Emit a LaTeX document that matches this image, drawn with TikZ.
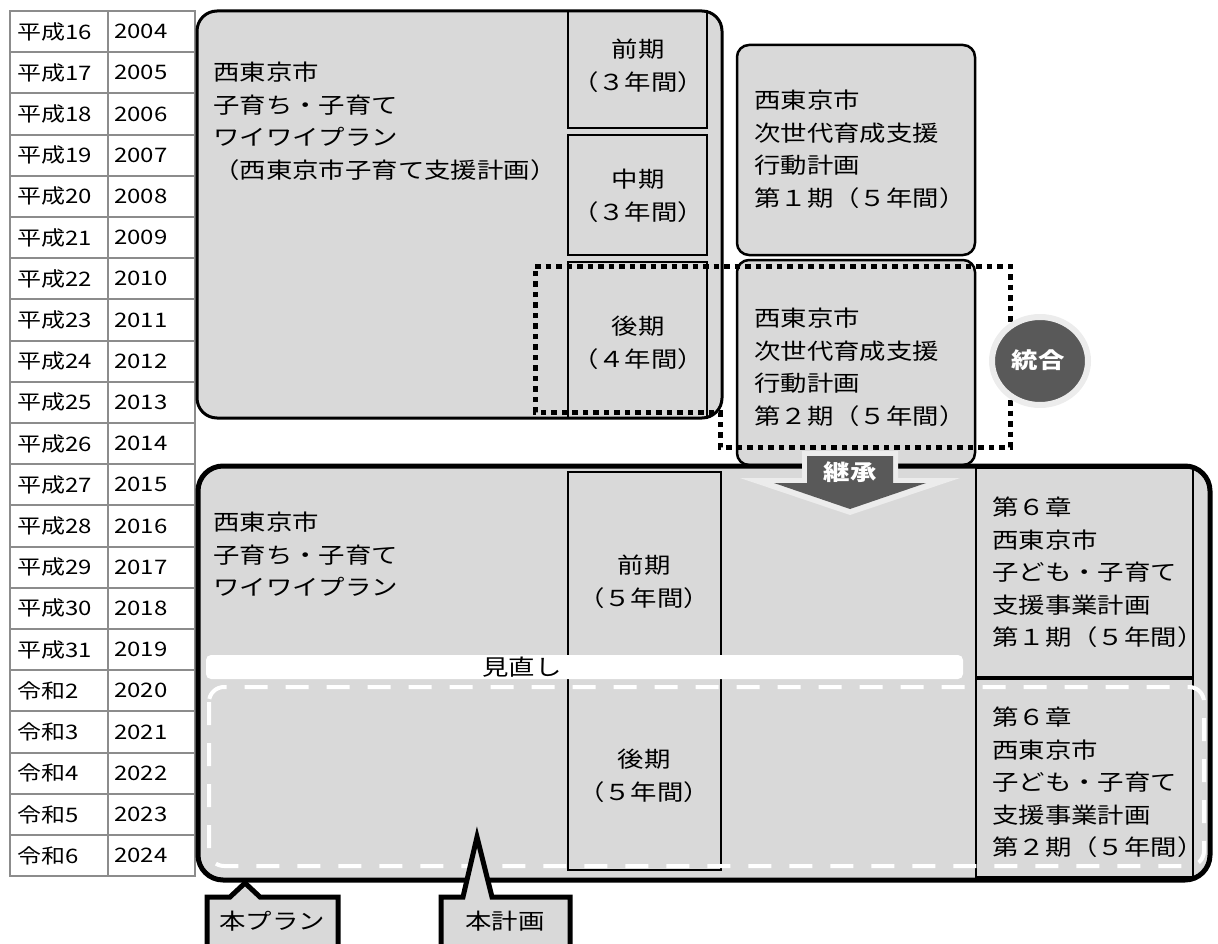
\documentclass[tikz,border=0pt]{standalone}
\usepackage{fontspec}
\newfontfamily\jpfont[FakeStretch=1.2]{Noto Sans CJK JP}
\usetikzlibrary{shapes.geometric}
\definecolor{plangray}{HTML}{D9D9D9}
\definecolor{markgray}{HTML}{595959}
\definecolor{halogray}{HTML}{ECECEC}
\definecolor{gridgray}{HTML}{8C8C8C}

\begin{document}
\begin{tikzpicture}[x=1pt, y=-1pt,
  jp/.style={font=\jpfont\fontsize{22}{32.5}\selectfont, inner sep=0pt, align=left, anchor=north west},
  term/.style={font=\jpfont\fontsize{22}{32.5}\selectfont, inner sep=0pt, align=center},
  tabtxt/.style={font=\jpfont\fontsize{20}{22}\selectfont, inner sep=0pt, anchor=west},
  tabline/.style={draw=gridgray, line width=2pt},
  plan/.style={draw, fill=plangray, line width=3pt, rounded corners=20pt},
  bigplan/.style={draw, fill=plangray, line width=5pt, rounded corners=25pt},
  part/.style={draw, line width=2.5pt},
  dotline/.style={line width=5pt, dash pattern=on 5.5pt off 5pt},
  review/.style={white, line width=4pt, dash pattern=on 23pt off 18pt, rounded corners=15pt},
  callout/.style={draw, fill=plangray, line width=5pt, line join=miter},
  badge/.style={font=\jpfont\bfseries\fontsize{22}{24}\selectfont, text=white, inner sep=0pt}]
\useasboundingbox (0,0) rectangle (1218,944);

% year table
\foreach \era/\yr [count=\i from 0] in {平成16/2004, 平成17/2005, 平成18/2006, 平成19/2007,
    平成20/2008, 平成21/2009, 平成22/2010, 平成23/2011, 平成24/2012, 平成25/2013,
    平成26/2014, 平成27/2015, 平成28/2016, 平成29/2017, 平成30/2018, 平成31/2019,
    令和2/2020, 令和3/2021, 令和4/2022, 令和5/2023, 令和6/2024} {
  \node[tabtxt] (era\i) at (17,{31.6+41.2*\i}) {\era};
  \node[tabtxt] (yr\i) at (114,{31.6+41.2*\i}) {\yr};
}
\foreach \k in {1,...,20}
  \draw[tabline] (10,{11+41.2*\k}) -- (195,{11+41.2*\k});
\draw[tabline] (10,11) rectangle (195,876);
\draw[tabline] (108,11) -- (108,876);

% old plan (2004-2014)
\draw[plan] (197,11) rectangle (722,418);
\draw[part] (568,11) rectangle (707,128);
\draw[part] (568,135) rectangle (707,255);
\draw[part] (568,262) rectangle (707,418);
\node[jp] (oldplan) at (213,62) {西東京市\\子育ち・子育て\\ワイワイプラン\\（西東京市子育て支援計画）};
\node[term] (oldfirst) at (638,66) {前期\\（３年間）};
\node[term] (oldmid) at (638,196) {中期\\（３年間）};
\node[term] (oldlast) at (638,343) {後期\\（４年間）};

% next generation action plans
\draw[part, fill=plangray, rounded corners=12pt] (737,45) rectangle (975,255);
\draw[part, fill=plangray, rounded corners=12pt] (737,260) rectangle (975,465);
\node[jp] (action1) at (754,90) {西東京市\\次世代育成支援\\行動計画\\第１期（５年間）};
\node[jp] (action2) at (754,308) {西東京市\\次世代育成支援\\行動計画\\第２期（５年間）};

% this plan (2015-2024)
\draw[bigplan] (198,466) rectangle (1210,880);
\draw[part] (568,472) rectangle (721,870);
\draw[part] (976,468) rectangle (1193,877);
\draw[line width=4pt] (976,678) -- (1193,678);
\node[jp] (newplan) at (213,512) {西東京市\\子育ち・子育て\\ワイワイプラン};
\node[term] (newfirst) at (644,582) {前期\\（５年間）};
\node[term] (newlast) at (644,776) {後期\\（５年間）};
\node[jp] (chap1) at (992,497) {第６章\\西東京市\\子ども・子育て\\支援事業計画\\第１期（５年間）};
\node[jp] (chap2) at (992,707) {第６章\\西東京市\\子ども・子育て\\支援事業計画\\第２期（５年間）};

% review bar and second half
\fill[white, rounded corners=5pt] (206,655) rectangle (963,679);
\node[term] (review) at (522,667) {見直し};
\draw[review] (209,687) rectangle (1204,866);

% merged range
\draw[dotline] (535,266) -- (1010,266) -- (1010,447) -- (720,447) -- (720,412) -- (535,412) -- cycle;
\node[ellipse, fill=markgray, draw=halogray, line width=6pt, minimum width=96pt, minimum height=88pt] (merge) at (1040,361) {};
\node[badge] at (1038,360) {統合};

% succession arrow
\fill[halogray] (802,451) -- (898,451) -- (898,478) -- (960,478) -- (850,515) -- (740,478) -- (802,478) -- cycle;
\fill[markgray] (807,456) -- (893,456) -- (893,483) -- (926,483) -- (850,509) -- (774,483) -- (807,483) -- cycle;
\node[badge] (inherit) at (850,472) {継承};

% callouts
\draw[callout] (207,897) -- (230,897) -- (245,883) -- (260,897) -- (338,897) -- (338,950) -- (207,950) -- cycle;
\draw[callout] (441,897) -- (463,897) -- (477,837) -- (492,897) -- (570,897) -- (570,950) -- (441,950) -- cycle;
\node[term] (thisplan) at (272,921) {本プラン};
\node[term] (thisprog) at (505,921) {本計画};
\end{tikzpicture}
\end{document}
